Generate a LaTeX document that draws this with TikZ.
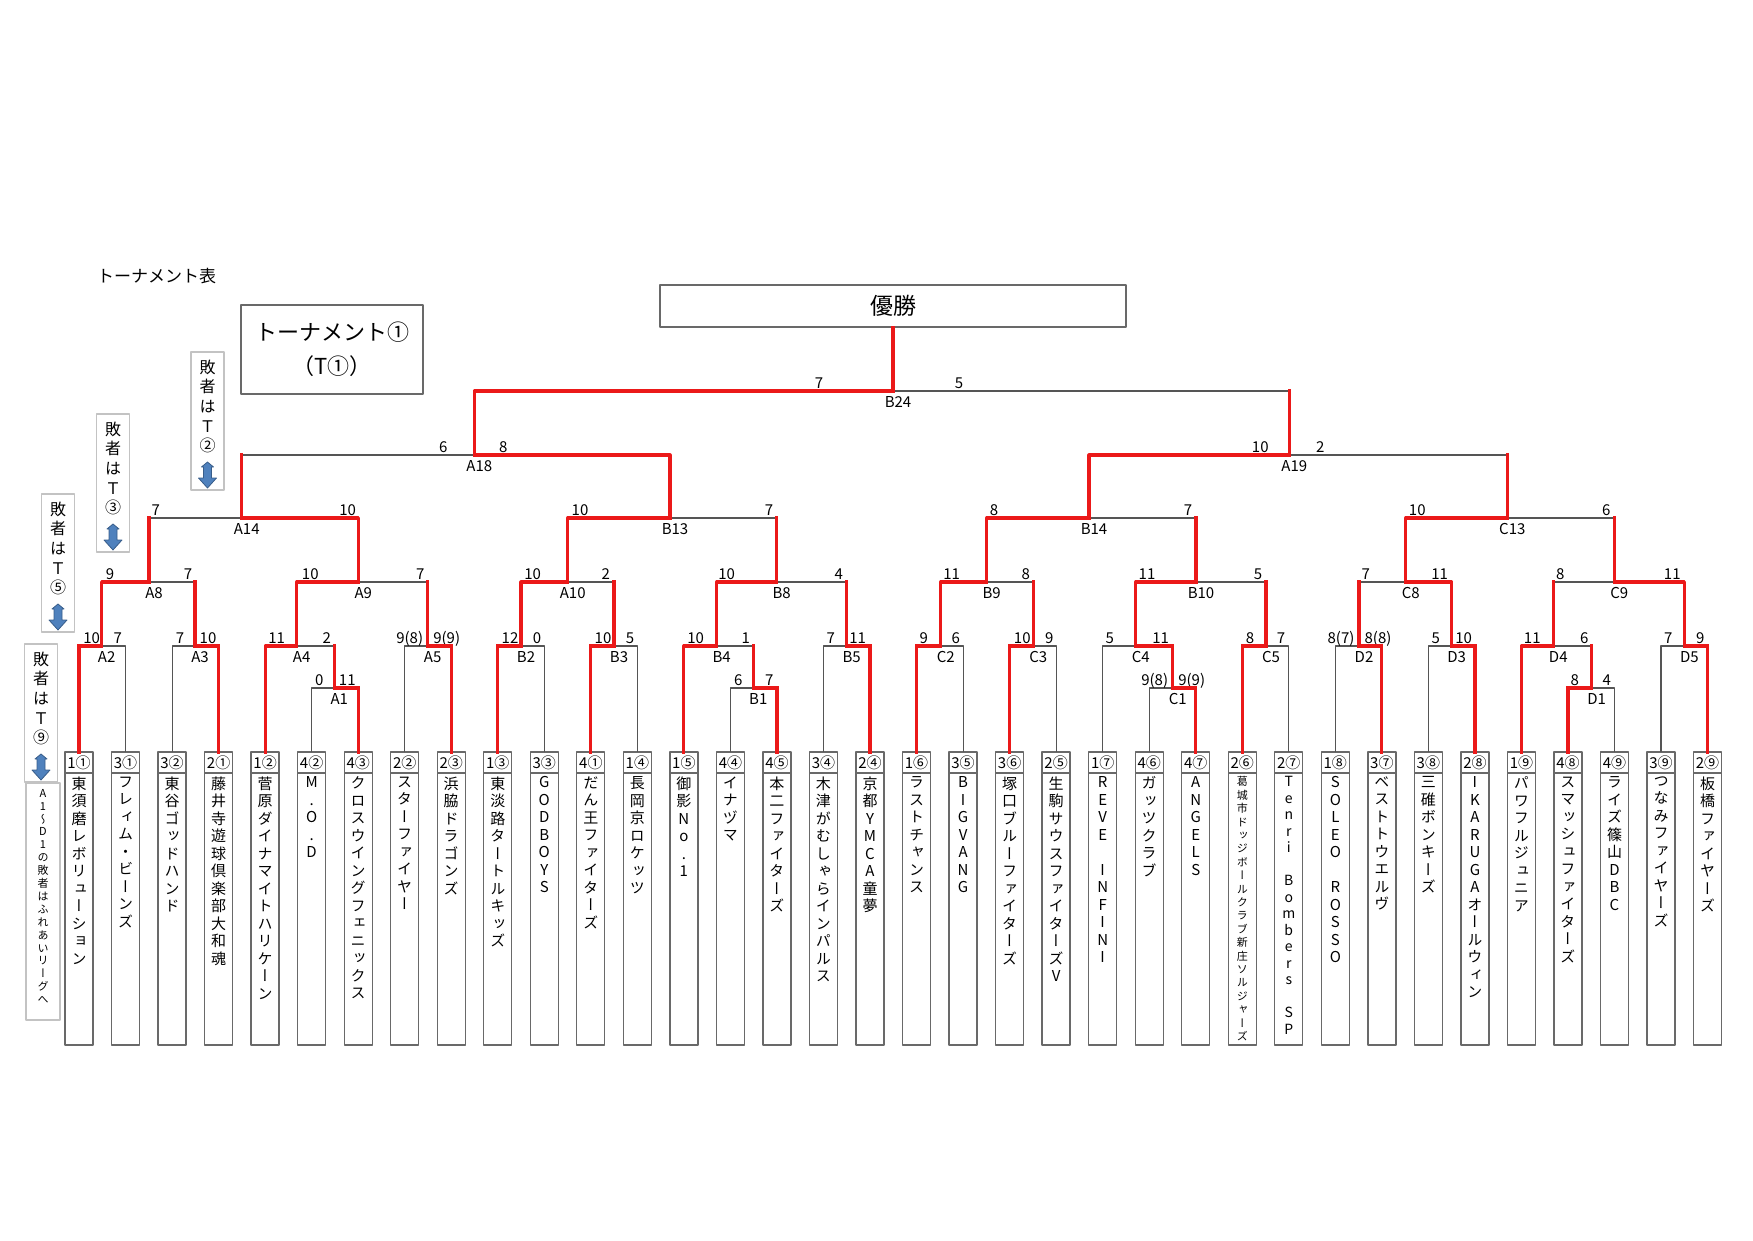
\documentclass[tikz,border=0pt]{standalone}
\usepackage{fontspec}
\setmainfont{Noto Sans CJK JP}
\newfontfamily\tatefont[RawFeature=+vert]{Noto Sans CJK JP}
\usetikzlibrary{positioning}
\definecolor{redline}{RGB}{235,25,25}
\definecolor{linegray}{RGB}{85,85,85}
\definecolor{cellgray}{RGB}{105,105,105}
\definecolor{notegray}{RGB}{195,195,195}
\definecolor{arrowblue}{RGB}{79,129,189}
\definecolor{arrowdark}{RGB}{56,93,138}
\makeatletter
\newcommand\kong{\hbox{}}
\newcommand\vtext[1]{\expandafter\vtext@\expandafter{#1}}
\newcommand\vtext@[1]{\vbox{\lineskiplimit=-\maxdimen\lineskip=0pt
  \@tfor\vch:=#1\do{\hbox to 1em{\hss\vch\hss}}}}
\makeatother
\begin{document}
\begin{tikzpicture}[x=1pt, y=-1pt, line join=round,
  numcell/.style={draw=cellgray, fill=white, line width=1.3pt, minimum width=28pt, minimum height=21pt,
    inner sep=0pt, outer sep=0pt, anchor=north, font=\fontsize{15}{18}\selectfont},
  namecell/.style={draw=cellgray, line width=1.3pt, minimum width=28pt, minimum height=272pt,
    inner sep=0pt, outer sep=0pt},
  tate/.style={inner sep=0pt, font=\tatefont\fontsize{15}{17.5}\selectfont},
  tatesmall/.style={inner sep=0pt, font=\tatefont\fontsize{11}{13.4}\selectfont},
  tatewide/.style={inner sep=0pt, font=\tatefont\fontsize{14}{16.5}\selectfont},
  notebox/.style={draw=notegray, line width=1.2pt, minimum width=33pt, minimum height=138pt,
    inner sep=0pt, outer sep=0pt, anchor=north},
  notetext/.style={inner sep=0pt, font=\tatefont\fontsize{16}{19.7}\selectfont},
  notesmall/.style={inner sep=0pt, font=\tatefont\fontsize{11}{12.9}\selectfont},
  updown/.style={fill=arrowblue, draw=arrowdark, line width=0.8pt},
  grayline/.style={draw=linegray, line width=1.1pt},
  winline/.style={draw=redline, line width=3.2pt, line cap=rect},
  score/.style={inner sep=0pt, anchor=base, font=\fontsize{15}{18}\selectfont},
  mlabel/.style={inner sep=0pt, anchor=base, font=\fontsize{15}{18}\selectfont}]
  \useasboundingbox (0,0) rectangle (1753,1240);
  %% Tiêu đề
  \node[anchor=west, inner sep=0pt, font=\fontsize{17}{20}\selectfont] (ttl) at (97,276) {トーナメント表};
  \node[draw=cellgray, line width=1.3pt, minimum width=182pt, minimum height=89pt, align=center,
    font=\fontsize{22}{34}\selectfont] (tbox) at (332,349.5) {トーナメント①\\（T①）};
  \node[draw=cellgray, line width=1.3pt, minimum width=466pt, minimum height=42pt,
    font=\fontsize{23}{26}\selectfont] (champ) at (893,306) {優勝};
  %% Các đội
  \foreach \num/\name/\fs [count=\i from 0] in {1①/東須磨レボリューション/tate, 3①/フレィム・ビーンズ/tate,
    3②/東谷ゴッドハンド/tate, 2①/藤井寺遊球倶楽部大和魂/tate, 1②/菅原ダイナマイトハリケーン/tate,
    4②/M.O.D/tate, 4③/クロスウイングフェニックス/tate, 2②/スターファイヤー/tate,
    2③/浜脇ドラゴンズ/tate, 1③/東淡路タートルキッズ/tate, 3③/GODBOYS/tate,
    4①/だん王ファイターズ/tate, 1④/長岡京ロケッツ/tate, 1⑤/御影No.1/tate,
    4④/イナヅマ/tate, 4⑤/本二ファイターズ/tate, 3④/木津がむしゃらインパルス/tate,
    2④/京都YMCA童夢/tate, 1⑥/ラストチャンス/tate, 3⑤/BIGVANG/tate,
    3⑥/塚口ブルーファイターズ/tate, 2⑤/生駒サウスファイターズV/tate, 1⑦/REVE\kong INFINI/tate,
    4⑥/ガッツクラブ/tate, 4⑦/ANGELS/tate, 2⑥/葛城市ドッジボールクラブ新庄ソルジャーズ/tatesmall,
    2⑦/Tenri\kong Bombers\kong SP/tatewide, 1⑧/SOLEO\kong ROSSO/tate, 3⑦/ベストトウエルヴ/tate,
    3⑧/三碓ボンキーズ/tate, 2⑧/IKARUGAオールウィン/tate, 1⑨/パワフルジュニア/tate,
    4⑧/スマッシュファイターズ/tate, 4⑨/ライズ篠山DBC/tate, 3⑨/つなみファイヤーズ/tate,
    2⑨/板橋ファイヤーズ/tate} {
    \node[numcell] (t\i) at ({79+46.53*\i},752) {\num};
    \node[namecell, below=0pt of t\i] (n\i) {};
    \node[\fs, below=3.5pt of n\i.north] (v\i) {\vtext{\name}};
  }
  %% Ghi chú bên trái
  \foreach \x/\y/\k [count=\j] in {207.5/352/②, 113/414/③, 58/494/⑤, 41/644/⑨} {
    \node[notebox] (g\j) at (\x,\y) {};
    \node[notetext, below=7.5pt of g\j.north] (gt\j) {\vtext{敗者はＴ\k}};
    \draw[updown] ([yshift=-110pt]g\j.north) -- ++(6,5) -- ++(-2,0) -- ++(0,11) -- ++(5,0) -- ++(-9,10)
      -- ++(-9,-10) -- ++(5,0) -- ++(0,-11) -- ++(-2,0) -- cycle;
  }
  \node[notebox, minimum width=34pt, minimum height=237pt] (fr) at (43,783) {};
  \node[notesmall, below=6pt of fr.north] (frt) {\vtext{A1～D1の敗者はふれあいリーグへ}};
  %% Vị trí các trận
  \def\yz{688}
  \def\ya{646}
  \def\yb{582}
  \def\yc{518}
  \def\yd{455}
  \def\ye{391}
  \foreach \m/\x/\y in {A1/334.3/\yz, B1/753.3/\yz, C1/1172.7/\yz, D1/1591.7/\yz,
    A2/101.7/\ya, A3/195/\ya, A4/296.7/\ya, A5/427.7/\ya, B2/521/\ya, B3/614/\ya, B4/716.7/\ya,
    B5/846.7/\ya, C2/940.7/\ya, C3/1033.3/\ya, C4/1135.7/\ya, C5/1266/\ya, D2/1359/\ya,
    D3/1451.7/\ya, D4/1553.3/\ya, D5/1684.3/\ya,
    A8/149/\yb, A9/358.3/\yb, A10/567.7/\yb, B8/776.7/\yb, B9/986.7/\yb, B10/1196/\yb,
    C8/1405.7/\yb, C9/1614.3/\yb,
    A14/241.7/\yc, B13/670/\yc, B14/1089/\yc, C13/1507.3/\yc,
    A18/474.3/\yd, A19/1289.3/\yd, B24/893/\ye}
    \coordinate (\m) at (\x,\y);
  %% Khung đấu và tỉ số
  \foreach \m/\l/\r/\a/\sa/\b/\sb in {A1/t5/t6/-15/0/13/11, B1/t14/t15/-15/6/16/7,
    C1/t23/t24/-18/9(8)/19/9(9), D1/t32/t33/-17/8/15/4,
    A2/t0/t1/-10/10/16/7, A3/t2/t3/-15/7/13/10, A4/t4/A1/-20/11/30/2, A5/t7/t8/-18/9(8)/19/9(9),
    B2/t9/t10/-11/12/16/0, B3/t11/t12/-11/10/16/5, B4/t13/B1/-21/10/29/1, B5/t16/t17/-16/7/11/11,
    C2/t18/t19/-17/9/15/6, C3/t20/t21/-11/10/16/9, C4/t22/C1/-26/5/25/11, C5/t25/t26/-16/8/15/7,
    D2/t27/t28/-18/8(7)/19/8(8), D3/t29/t30/-16/5/12/10, D4/t31/D1/-21/11/31/6, D5/t34/t35/-16/7/16/9,
    A8/A2/A3/-39/9/39/7, A9/A4/A5/-48/10/62/7, A10/B2/B3/-35/10/38/2, B8/B4/B5/-50/10/62/4,
    B9/C2/C3/-35/11/39/8, B10/C4/C5/-49/11/62/5, C8/D2/D3/-40/7/34/11, C9/D4/D5/-54/8/58/11,
    A14/A8/A9/-86/7/106/10, B13/A10/B8/-90/10/99/7, B14/B9/B10/-95/8/99/7, C13/C8/C9/-90/10/99/6,
    A18/A14/B13/-31/6/29/8, A19/B14/C13/-29/10/31/2, B24/A18/A19/-74/7/66/5} {
    \draw[grayline] (\l) |- (\m) -| (\r);
    \node[score] (\m-l) at ([xshift=\a, yshift=3]\m) {\sa};
    \node[score] (\m-r) at ([xshift=\b, yshift=3]\m) {\sb};
    \node[mlabel] (\m-n) at ([xshift=5, yshift=-16]\m) {\m};
  }
  %% Đường thắng
  \foreach \m/\w/\o in {A1/t6/t6, B1/t15/t15, C1/t24/t24, D1/t32/t32,
    A2/t0/t0, A3/t3/t3, A4/t4/A1, A5/t8/t8, B2/t9/t9, B3/t11/t11, B4/t13/B1, B5/t17/t17,
    C2/t18/t18, C3/t20/t20, C4/C1/C1, C5/t25/t25, D2/t28/t28, D3/t30/t30, D4/t31/D1, D5/t35/t35,
    A8/A2/A3, A9/A4/A5, A10/B2/B3, B8/B4/B5, B9/C2/C3, B10/C4/C5, C8/D3/D2, C9/D5/D4,
    A14/A9/A8, B13/A10/B8, B14/B9/B10, C13/C8/C9, A18/B13/A14, A19/B14/C13, B24/A18/A19}
    \draw[winline] (\w) |- (\m) (\o) -- (\o |- \m);
  \draw[winline] (B24) -- (champ.south);
\end{tikzpicture}
\end{document}
